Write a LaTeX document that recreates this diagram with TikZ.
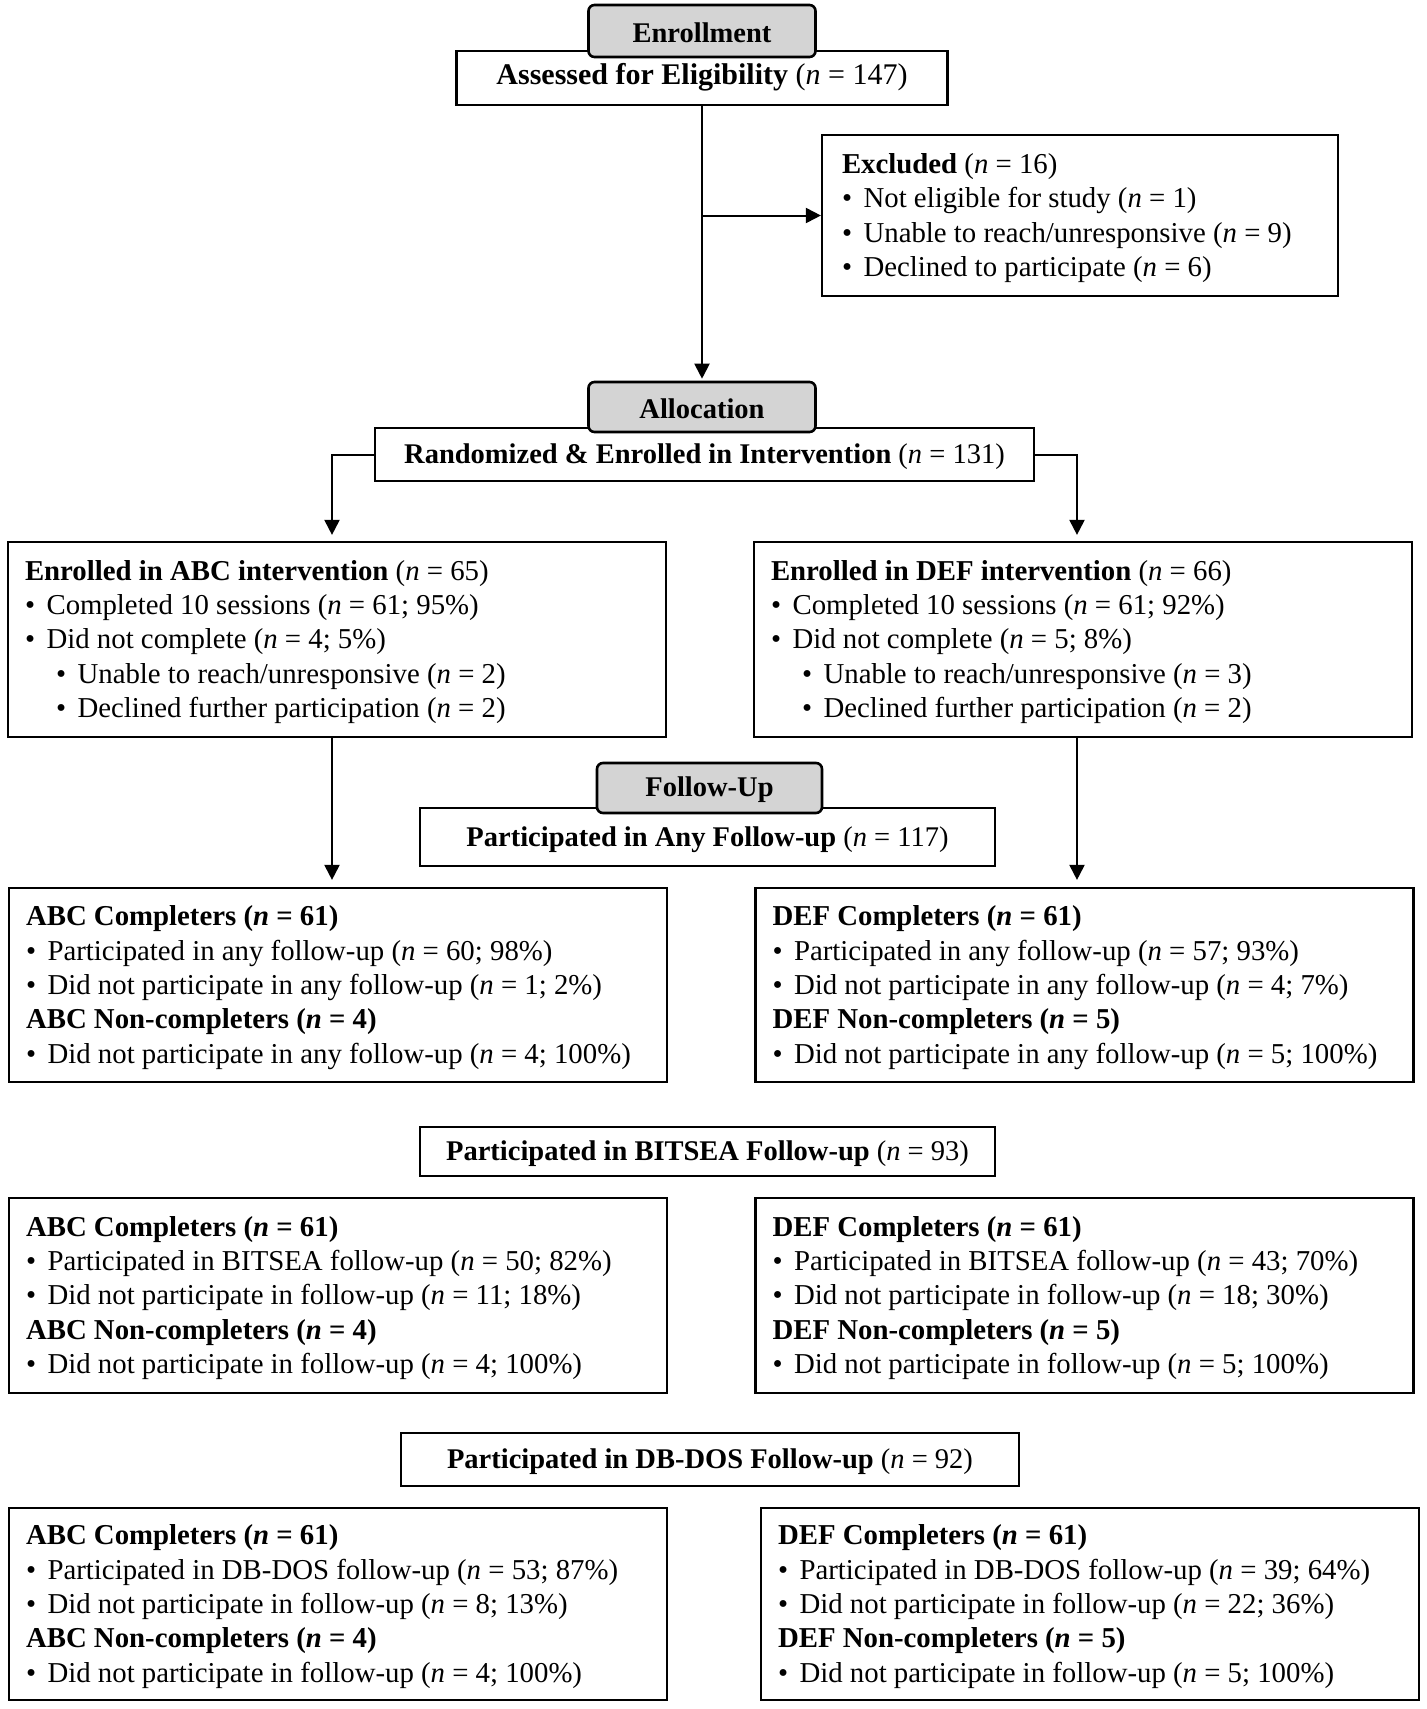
\documentclass[tikz,border=0pt]{standalone}
\usepackage{fontspec}
\setmainfont{Liberation Serif}
\usetikzlibrary{arrows.meta}
\newcommand{\nv}{\textit{n}}
\newcommand{\bl}{•\hspace{11.5pt}}
\newcommand{\sbl}{\hspace*{31pt}•\hspace{11.5pt}}
\definecolor{tabgray}{HTML}{D4D4D4}
\begin{document}
\begin{tikzpicture}[x=1pt,y=-1pt,
  every node/.style={font=\fontsize{28.5}{34.3}\selectfont},
  hbox/.style={draw, line width=2.2pt, fill=white, inner sep=0pt, align=center, text height=25pt},
  lbox/.style={draw, line width=2.2pt, fill=white, inner xsep=17pt, inner ysep=0pt, align=flush left, text width=624pt, minimum width=658pt, text height=25pt, font=\fontsize{28.8}{34.3}\selectfont},
  tabbox/.style={draw, line width=2.6pt, fill=tabgray, rounded corners=6pt, inner sep=0pt, minimum width=227pt, minimum height=50pt, text height=24pt, font=\fontsize{28.5}{34}\selectfont\bfseries},
  arr/.style={line width=2pt, -{Triangle[length=15pt,width=15pt]}}
]
\useasboundingbox[fill=white] (0,0) rectangle (1427,1709);

% Enrollment
\node[hbox, minimum width=491pt, minimum height=54pt, text height=20pt, font=\fontsize{30}{34}\selectfont] (assess) at (702,78) {\textbf{Assessed for Eligibility} (\nv{} = 147)};
\node[tabbox, minimum height=52pt] (enroll) at (702,31) {Enrollment};
\node[draw, line width=2.2pt, inner xsep=20pt, inner ysep=0pt, align=flush left, text width=476pt, minimum width=516pt, minimum height=161pt, text height=25pt, font=\fontsize{28.8}{34.3}\selectfont] (excl) at (1080,215.5)
 {\textbf{Excluded} (\nv{} = 16)\\
 \bl Not eligible for study (\nv{} = 1)\\
 \bl Unable to reach/unresponsive (\nv{} = 9)\\
 \bl Declined to participate (\nv{} = 6)};

% Allocation
\node[hbox, minimum width=659pt, minimum height=53pt] (rand) at (704.5,454.5) {\textbf{Randomized \& Enrolled in Intervention} (\nv{} = 131)};
\node[tabbox] (alloc) at (702,407) {Allocation};

\node[lbox, minimum height=195pt] (abc0) at (337,639.5)
 {\textbf{Enrolled in ABC intervention} (\nv{} = 65)\\
 \bl Completed 10 sessions (\nv{} = 61; 95\%)\\
 \bl Did not complete (\nv{} = 4; 5\%)\\
 \sbl Unable to reach/unresponsive (\nv{} = 2)\\
 \sbl Declined further participation (\nv{} = 2)};
\node[lbox, minimum height=195pt] (def0) at (1083,639.5)
 {\textbf{Enrolled in DEF intervention} (\nv{} = 66)\\
 \bl Completed 10 sessions (\nv{} = 61; 92\%)\\
 \bl Did not complete (\nv{} = 5; 8\%)\\
 \sbl Unable to reach/unresponsive (\nv{} = 3)\\
 \sbl Declined further participation (\nv{} = 2)};

% Follow-up
\node[hbox, minimum width=575pt, minimum height=58pt] (any) at (707.5,837) {\textbf{Participated in Any Follow-up} (\nv{} = 117)};
\node[tabbox, minimum width=225pt] (follow) at (709.5,788) {Follow-Up};

\node[lbox, minimum height=194pt] (abc1) at (338,985)
 {\textbf{ABC Completers (\nv{} = 61)}\\
 \bl Participated in any follow-up (\nv{} = 60; 98\%)\\
 \bl Did not participate in any follow-up (\nv{} = 1; 2\%)\\
 \textbf{ABC Non-completers (\nv{} = 4)}\\
 \bl Did not participate in any follow-up (\nv{} = 4; 100\%)};
\node[lbox, minimum height=194pt] (def1) at (1084.5,985)
 {\textbf{DEF Completers (\nv{} = 61)}\\
 \bl Participated in any follow-up (\nv{} = 57; 93\%)\\
 \bl Did not participate in any follow-up (\nv{} = 4; 7\%)\\
 \textbf{DEF Non-completers (\nv{} = 5)}\\
 \bl Did not participate in any follow-up (\nv{} = 5; 100\%)};

\node[hbox, minimum width=575pt, minimum height=49pt] (bitsea) at (707.5,1151.5) {\textbf{Participated in BITSEA Follow-up} (\nv{} = 93)};

\node[lbox, minimum height=195pt] (abc2) at (338,1295.5)
 {\textbf{ABC Completers (\nv{} = 61)}\\
 \bl Participated in BITSEA follow-up (\nv{} = 50; 82\%)\\
 \bl Did not participate in follow-up (\nv{} = 11; 18\%)\\
 \textbf{ABC Non-completers (\nv{} = 4)}\\
 \bl Did not participate in follow-up (\nv{} = 4; 100\%)};
\node[lbox, minimum height=195pt] (def2) at (1084.5,1295.5)
 {\textbf{DEF Completers (\nv{} = 61)}\\
 \bl Participated in BITSEA follow-up (\nv{} = 43; 70\%)\\
 \bl Did not participate in follow-up (\nv{} = 18; 30\%)\\
 \textbf{DEF Non-completers (\nv{} = 5)}\\
 \bl Did not participate in follow-up (\nv{} = 5; 100\%)};

\node[hbox, minimum width=618pt, minimum height=53pt] (dbdos) at (710,1459.5) {\textbf{Participated in DB-DOS Follow-up} (\nv{} = 92)};

\node[lbox, minimum height=192pt] (abc3) at (338,1604)
 {\textbf{ABC Completers (\nv{} = 61)}\\
 \bl Participated in DB-DOS follow-up (\nv{} = 53; 87\%)\\
 \bl Did not participate in follow-up (\nv{} = 8; 13\%)\\
 \textbf{ABC Non-completers (\nv{} = 4)}\\
 \bl Did not participate in follow-up (\nv{} = 4; 100\%)};
\node[lbox, minimum height=192pt] (def3) at (1090,1604)
 {\textbf{DEF Completers (\nv{} = 61)}\\
 \bl Participated in DB-DOS follow-up (\nv{} = 39; 64\%)\\
 \bl Did not participate in follow-up (\nv{} = 22; 36\%)\\
 \textbf{DEF Non-completers (\nv{} = 5)}\\
 \bl Did not participate in follow-up (\nv{} = 5; 100\%)};

% connectors
\coordinate (abcin) at ([xshift=-5pt]abc0.north);
\coordinate (defin) at ([xshift=-6pt]def0.north);
\draw[arr, shorten >=2pt] (assess.south) -- (alloc.north);
\draw[arr] (assess.south |- excl.west) -- (excl.west);
\draw[arr, shorten >=6pt] (rand.west) -| (abcin);
\draw[arr, shorten >=6pt] (rand.east) -| (defin);
\draw[arr, shorten >=7pt] (abcin |- abc0.south) -- (abcin |- abc1.north);
\draw[arr, shorten >=7pt] (defin |- def0.south) -- (defin |- def1.north);
\end{tikzpicture}
\end{document}
